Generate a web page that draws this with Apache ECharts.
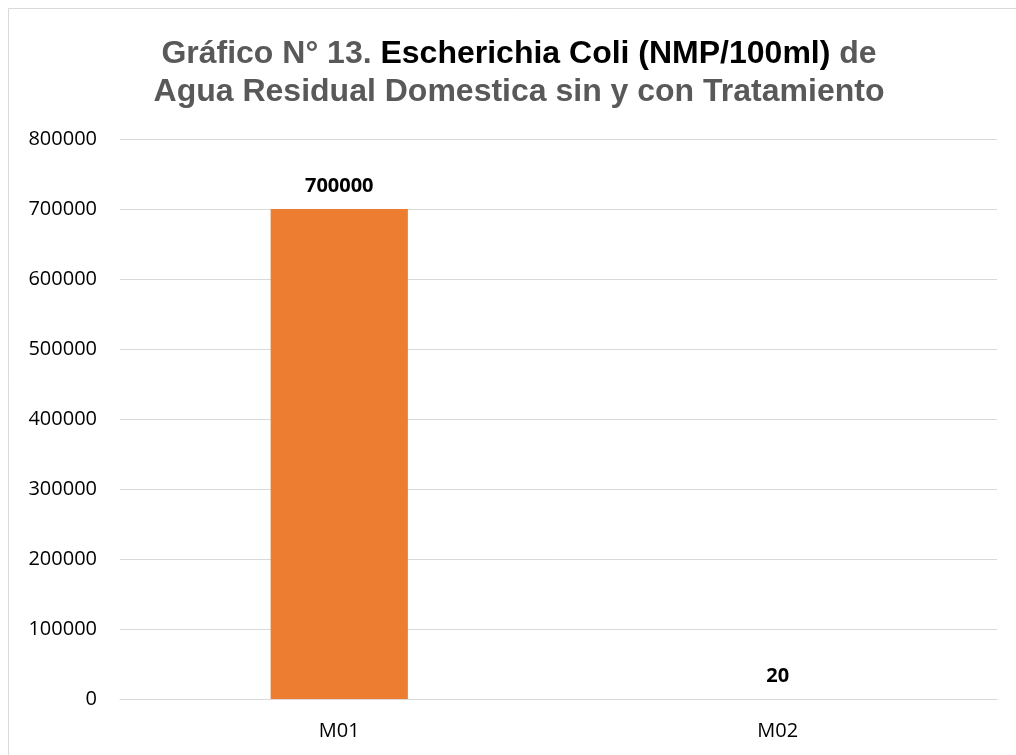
<!DOCTYPE html>
<html>
<head>
<meta charset="utf-8">
<script src="https://cdn.jsdelivr.net/npm/echarts@6/dist/echarts.min.js"></script>
<style>
  html, body { margin: 0; padding: 0; background: #ffffff; }
  #chart { width: 1016px; height: 755px; }
</style>
</head>
<body>
<div id="chart"></div>
<script>
// Muestras y resultados de E. coli (NMP/100ml)
const categories = ['M01', 'M02'];
const ecoliValues = [700000, 20];
const yTicks = { min: 0, max: 800000, interval: 100000 };

const chart = echarts.init(document.getElementById('chart'));

const titleFont = { fontFamily: 'Liberation Sans', fontSize: 32, fontWeight: 'bold', lineHeight: 38 };

const option = {
  backgroundColor: '#ffffff',
  animation: false,
  graphic: [{
    type: 'rect',
    shape: { x: 8.5, y: 8.5, width: 1100, height: 900 },
    style: { fill: 'none', stroke: '#d9d9d9', lineWidth: 1 },
    silent: true,
    z: -1
  }],
  title: {
    left: 514,
    top: 30,
    textAlign: 'center',
    textStyle: Object.assign({
      color: '#595959',
      rich: {
        g: Object.assign({ color: '#595959' }, titleFont),
        k: Object.assign({ color: '#000000' }, titleFont)
      }
    }, titleFont),
    text: '{g|Gráfico N° 13. }{k|Escherichia Coli (NMP/100ml)}{g| de}\n{g|Agua Residual Domestica sin y con Tratamiento}'
  },
  grid: {
    left: 120,
    right: 19,
    top: 139,
    bottom: 56,
    containLabel: false
  },
  xAxis: {
    type: 'category',
    data: categories,
    axisLine: { show: true, lineStyle: { color: '#d9d9d9', width: 1 } },
    axisTick: { show: false },
    axisLabel: {
      color: '#000000',
      fontFamily: 'Open Sans',
      fontSize: 20,
      margin: 22
    }
  },
  yAxis: {
    type: 'value',
    min: yTicks.min,
    max: yTicks.max,
    interval: yTicks.interval,
    axisLine: { show: false },
    axisTick: { show: false },
    splitLine: { lineStyle: { color: '#d9d9d9', width: 1 } },
    axisLabel: {
      color: '#000000',
      fontFamily: 'Open Sans',
      fontSize: 20,
      margin: 23,
      formatter: function (v) { return String(v); }
    }
  },
  series: [{
    type: 'bar',
    data: ecoliValues,
    barWidth: '31.3%',
    itemStyle: { color: '#ed7d31' },
    label: {
      show: true,
      position: 'top',
      distance: 13,
      color: '#000000',
      fontFamily: 'Open Sans',
      fontWeight: 'bold',
      fontSize: 20
    }
  }]
};

chart.setOption(option);
</script>
</body>
</html>
